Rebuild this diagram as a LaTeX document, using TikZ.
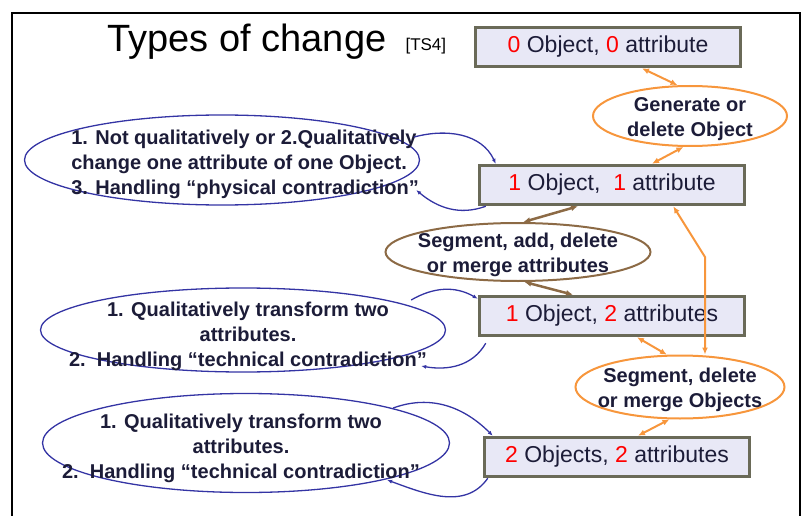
\documentclass[tikz,border=0pt]{standalone}
\usepackage{fontspec}
\setmainfont{Liberation Sans}
\usetikzlibrary{arrows.meta,shapes.geometric}

\definecolor{boxfill}{HTML}{E8E8F6}
\definecolor{boxline}{HTML}{6A6A58}
\definecolor{orng}{HTML}{F7963C}
\definecolor{brwn}{HTML}{8C6A45}
\definecolor{loopblue}{HTML}{3434A4}
\definecolor{ink}{HTML}{1C1C38}
\newcommand{\redn}[1]{\textcolor{red}{#1}}

\begin{document}
\begin{tikzpicture}[x=1pt,y=1pt,
  box/.style={draw=boxline,line width=3.5pt,fill=boxfill,minimum width=265pt,
    minimum height=39pt,inner sep=0pt,text=ink,font=\fontsize{23}{27}\selectfont},
  oval/.style={ellipse,draw,inner sep=0pt},
  ovaltext/.style={font=\fontsize{20}{25}\selectfont\bfseries,text=ink,align=center,inner sep=0pt,yshift=-3pt},
  twoway/.style={line width=2pt,arrows={Latex[length=7pt,width=6pt]-Latex[length=7pt,width=6pt]}},
  loopline/.style={loopblue,line width=1.3pt,arrows={-Latex[length=5pt,width=4pt]}}]
  \useasboundingbox (0,0) rectangle (806,-516);
  \draw[line width=1.2pt] (12,-516) -- (12,-13) -- (800,-13) -- (800,-516);

  \node[font=\fontsize{38}{40}\selectfont] (title) at (247,-42) {Types of change};
  \node[font=\fontsize{17}{19}\selectfont,anchor=west] (tag) at (402,-46) {[TS4]};

  % the four states
  \node[box] (box0) at (608,-47) {\redn{0} Object, \redn{0} attribute};
  \node[box] (box1) at (612,-185) {\redn{1} Object,\ \ \redn{1} attribute};
  \node[box] (box2) at (612,-316) {\redn{1} Object, \redn{2} attributes};
  \node[box] (box3) at (617,-457) {\redn{2} Objects, \redn{2} attributes};

  % operations between them
  \node[oval,draw=orng,line width=2pt,minimum width=194pt,minimum height=60pt] (gen) at (690,-116) {};
  \node[ovaltext] (gent) at (gen) {Generate or\\delete Object};
  \node[oval,draw=brwn,line width=2pt,minimum width=265pt,minimum height=58pt] (seg) at (518,-252) {};
  \node[ovaltext] (segt) at (seg) {Segment, add, delete\\or merge attributes};
  \node[oval,draw=orng,line width=2pt,minimum width=209pt,minimum height=63pt] (obj) at (680,-387) {};
  \node[ovaltext] (objt) at (obj) {Segment, delete\\or merge Objects};

  % comments on the left
  \node[oval,draw=loopblue,line width=1.3pt,minimum width=395pt,minimum height=90pt] (ell1) at (222,-160) {};
  \node[ovaltext,align=left] (ell1t) at (245,-161)
    {1. Not qualitatively or 2.Qualitatively\\change one attribute of one Object.\\3. Handling “physical contradiction”};
  \node[oval,draw=loopblue,line width=1.3pt,minimum width=405pt,minimum height=84pt] (ell2) at (243,-330) {};
  \node[ovaltext] (ell2t) at (248,-333)
    {1. Qualitatively transform two\\attributes.\\2.\ \ Handling “technical contradiction”};
  \node[oval,draw=loopblue,line width=1.3pt,minimum width=407pt,minimum height=99pt] (ell3) at (246,-443) {};
  \node[ovaltext] (ell3t) at (241,-445)
    {1. Qualitatively transform two\\attributes.\\2.\ \ Handling “technical contradiction”};

  \draw[twoway,orng] ([xshift=34pt]box0.south) -- (gen.112);
  \draw[twoway,orng] (gen.258) -- ([xshift=40pt]box1.north);
  \draw[twoway,brwn,line width=2.5pt] ([xshift=-34pt]box1.south) -- (seg.80);
  \draw[twoway,brwn,line width=2.5pt] (seg.282) -- ([xshift=-39pt]box2.north);
  \draw[twoway,orng] ([xshift=25pt]box2.south) -- (obj.112);
  \draw[twoway,orng] (obj.252) -- ([xshift=21pt]box3.north);
  \coordinate (kink) at (705,-257);
  \draw[twoway,orng] ([xshift=-73pt]box1.south east) -- (kink) -- (obj.north -| kink);

  \coordinate (l1a) at ([shift={(-6,23)}]ell1.east);
  \coordinate (l1b) at ([shift={(-4,-30)}]ell1.east);
  \coordinate (l2a) at ([shift={(-35,30)}]ell2.east);
  \coordinate (l2b) at ([shift={(-25,-36)}]ell2.east);
  \coordinate (l3a) at ([shift={(-57,35)}]ell3.east);
  \coordinate (l3b) at ([shift={(-63,-37)}]ell3.east);
  \draw[loopline] (l1a) to[out=15,in=115] ([xshift=18pt]box1.north west);
  \draw[loopline] ([xshift=8pt]box1.south west) to[out=200,in=-40] (l1b);
  \draw[loopline] (l2a) to[out=30,in=150] ([shift={(0,-4)}]box2.north west);
  \draw[loopline] ([shift={(8,-6)}]box2.south west) to[out=240,in=-10] (l2b);
  \draw[loopline] (l3a) to[out=20,in=135] ([xshift=10pt]box3.north west);
  \draw[loopline] ([xshift=5pt]box3.south west) to[out=235,in=-20] (l3b);
\end{tikzpicture}
\end{document}
